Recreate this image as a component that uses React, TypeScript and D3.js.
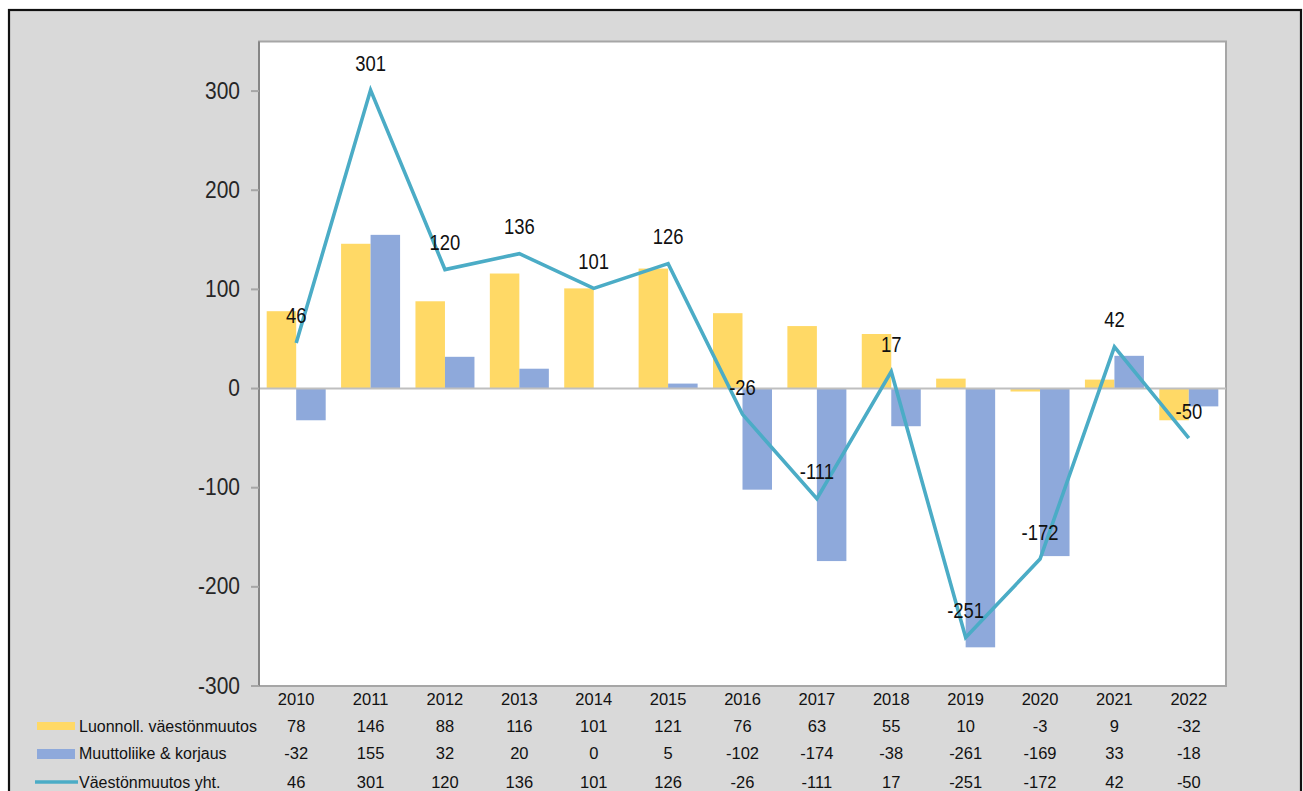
import React from "react";
import * as d3 from "d3";

const years = ["2010","2011","2012","2013","2014","2015","2016","2017","2018","2019","2020","2021","2022"];
const natural = [78,146,88,116,101,121,76,63,55,10,-3,9,-32];
const migration = [-32,155,32,20,0,5,-102,-174,-38,-261,-169,33,-18];
const total = [46,301,120,136,101,126,-26,-111,17,-251,-172,42,-50];
const yTicks = [-300,-200,-100,0,100,200,300];
const seriesNames = ["Luonnoll. väestönmuutos","Muuttoliike & korjaus","Väestönmuutos yht."];

const YELLOW = "#FFD966";
const BLUE = "#8EA9DB";
const TEAL = "#4BACC6";
const FONT = "'Liberation Sans', Arial, sans-serif";

export default function App() {
  const W = 1303, H = 791;
  const left = 259, right = 1226, top = 41.5, bottom = 686;
  const x = d3.scaleBand<string>().domain(years).range([left, right]).paddingInner(0).paddingOuter(0);
  const y = d3.scaleLinear().domain([-300, 350]).range([bottom, top]);
  const bw = 29.5;
  const cx = (i: number) => (x(years[i]) as number) + x.bandwidth() / 2;
  const line = d3.line<number>().x((_, i) => cx(i)).y((d) => y(d));

  const rows = [
    { vals: natural, base: 731.5 },
    { vals: migration, base: 759 },
    { vals: total, base: 788 },
  ];

  return (
    <svg width={W} height={H} style={{ position: "absolute", left: 0, top: 0, background: "#fff" }} fontFamily={FONT}>
      <rect x={9} y={10} width={1292} height={800} fill="#D9D9D9" stroke="#111" strokeWidth={2.2} />
      <rect x={left} y={top} width={right - left} height={bottom - top} fill="#fff" stroke="#A6A6A6" strokeWidth={2} />
      {years.map((yr, i) => (
        <g key={yr}>
          <rect x={cx(i) - bw} y={y(Math.max(0, natural[i]))} width={bw} height={Math.abs(y(natural[i]) - y(0))} fill={YELLOW} />
          <rect x={cx(i)} y={y(Math.max(0, migration[i]))} width={bw} height={Math.abs(y(migration[i]) - y(0))} fill={BLUE} />
        </g>
      ))}
      <line x1={left} x2={right} y1={y(0)} y2={y(0)} stroke="#BFBFBF" strokeWidth={2} />
      <line x1={left} x2={left} y1={top} y2={bottom} stroke="#868686" strokeWidth={2} />
      {yTicks.map((t) => (
        <g key={t}>
          <line x1={251} x2={left} y1={y(t)} y2={y(t)} stroke="#A6A6A6" strokeWidth={2} />
          <text transform={`translate(240,${y(t) + 7.5}) scale(1,1.1)`} textAnchor="end" fontSize={21} fill="#262626">{t}</text>
        </g>
      ))}
      <path d={line(total) || ""} fill="none" stroke={TEAL} strokeWidth={3.6} strokeLinejoin="miter" />
      {total.map((v, i) => (
        <text key={i} transform={`translate(${cx(i)},${y(v) - 19.5}) scale(0.97,1.2)`} textAnchor="middle" fontSize={19} fill="#111">{v}</text>
      ))}
      {years.map((yr, i) => (
        <text key={yr} x={cx(i)} y={705} textAnchor="middle" fontSize={16.5} fill="#111">{yr}</text>
      ))}
      {rows.map((r, ri) => (
        <g key={ri}>
          {r.vals.map((v, i) => (
            <text key={i} x={cx(i)} y={r.base} textAnchor="middle" fontSize={16.5} fill="#111">{v}</text>
          ))}
          <text x={79} y={r.base} fontSize={16} fill="#111">{seriesNames[ri]}</text>
        </g>
      ))}
      <rect x={37} y={722} width={38} height={8} fill={YELLOW} />
      <rect x={37} y={749} width={38} height={10} fill={BLUE} />
      <line x1={35} x2={78} y1={782} y2={782} stroke={TEAL} strokeWidth={3.5} />
    </svg>
  );
}
